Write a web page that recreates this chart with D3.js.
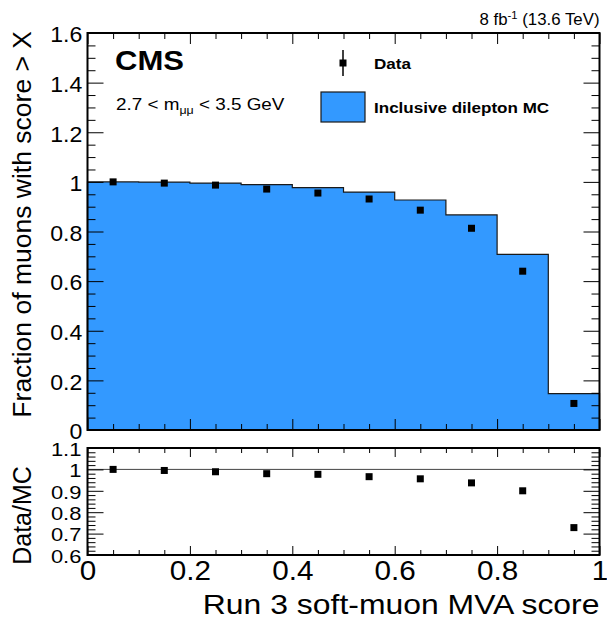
<!DOCTYPE html>
<html>
<head>
<meta charset="utf-8">
<script src="https://cdn.jsdelivr.net/npm/d3@7"></script>
<style>
  body { margin: 0; background: #fff; }
  svg { font-family: "Liberation Sans", Arial, sans-serif; }
</style>
</head>
<body>
<div id="chart"></div>
<script>
// bins of the MVA score (lower edges), width 0.1
const binLow = [0.0, 0.1, 0.2, 0.3, 0.4, 0.5, 0.6, 0.7, 0.8, 0.9]
// fraction of muons with score > X, inclusive dilepton MC
const mcFrac = [1.000, 0.999, 0.995, 0.989, 0.977, 0.959, 0.927, 0.867, 0.708, 0.147]
// data points at bin centres
const binCenter = [0.05, 0.15, 0.25, 0.35, 0.45, 0.55, 0.65, 0.75, 0.85, 0.95]
const dataFrac = [1.000, 0.995, 0.987, 0.971, 0.955, 0.931, 0.886, 0.813, 0.640, 0.107]
const ratio = [1.000, 0.995, 0.989, 0.980, 0.977, 0.966, 0.956, 0.937, 0.900, 0.728]

const xTicks = [0, 0.2, 0.4, 0.6, 0.8, 1]
const yTicksTop = [0, 0.2, 0.4, 0.6, 0.8, 1, 1.2, 1.4, 1.6]
const yTicksRatio = [0.6, 0.7, 0.8, 0.9, 1, 1.1]

const width = 607, height = 619
const left = 87.5, right = 599.5
const topY0 = 33, topY1 = 430
const botY0 = 448, botY1 = 555
const fillColor = "#3399ff"

const svg = d3.select("#chart").append("svg")
  .attr("width", width)
  .attr("height", height)

const x = d3.scaleLinear().domain([0, 1]).range([left, right])
const y = d3.scaleLinear().domain([0, 1.6]).range([topY1, topY0])
const yr = d3.scaleLinear().domain([0.6, 1.1]).range([botY1, botY0])

const fmt = d => d3.format("")(+d.toFixed(1))

// text placed with a small horizontal stretch (the reference font runs wide)
function label(x0, y0, size, sx, anchor) {
  return svg.append("text")
    .attr("transform", `translate(${x0},${y0}) scale(${sx},1)`)
    .attr("text-anchor", anchor || "start")
    .style("font-size", size + "px")
}

// ---- top panel: histogram
const steps = []
binLow.forEach((b, i) => {
  steps.push([b, mcFrac[i]])
  steps.push([b + 0.1, mcFrac[i]])
})
const area = d3.area().x(d => x(d[0])).y0(y(0)).y1(d => y(d[1]))
const line = d3.line().x(d => x(d[0])).y(d => y(d[1]))

svg.append("path")
  .datum(steps)
  .attr("d", area)
  .attr("fill", fillColor)

svg.append("path")
  .datum([[0, 0], ...steps, [1, 0]])
  .attr("d", line)
  .attr("fill", "none")
  .attr("stroke", "#1a1a1a")
  .attr("stroke-width", 1.2)

svg.append("g")
  .selectAll("rect")
  .data(binCenter)
  .join("rect")
  .attr("x", d => x(d) - 3.5)
  .attr("y", (d, i) => y(dataFrac[i]) - 3.5)
  .attr("width", 7)
  .attr("height", 7)
  .attr("fill", "#000")

// axes helper: inward ticks, major + minor
function ticks(g, axisFn, scale, major, minor, majLen, minLen, labels, fontSize, pad, sx) {
  const a = axisFn(scale).tickValues(major).tickSize(-majLen).tickPadding(pad)
    .tickFormat(labels ? fmt : "")
  const gm = g.append("g").call(a)
  gm.select(".domain").remove()
  gm.selectAll("text").style("font-size", fontSize + "px").attr("fill", "#000")
    .attr("transform", `scale(${sx || 1},1)`)
  gm.selectAll("line").attr("stroke", "#000")
  const b = axisFn(scale).tickValues(minor).tickSize(-minLen).tickFormat("")
  const gn = g.append("g").call(b)
  gn.select(".domain").remove()
  gn.selectAll("line").attr("stroke", "#000")
  return gm
}

const minorX = d3.range(0, 1.0001, 0.05).filter(v => Math.abs(v * 5 - Math.round(v * 5)) > 1e-6)
const minorYTop = d3.range(0, 1.6001, 0.05).filter(v => Math.abs(v * 5 - Math.round(v * 5)) > 1e-6)
const minorYR = d3.range(0.6, 1.1001, 0.02).filter(v => Math.abs(v * 10 - Math.round(v * 10)) > 1e-6)

// top panel axes
const yl = ticks(svg.append("g").attr("transform", `translate(${left},0)`), d3.axisLeft, y, yTicksTop, minorYTop, 16, 8, true, 22, 5, 1.05)
yl.selectAll("text").attr("dy", "0.4em")
ticks(svg.append("g").attr("transform", `translate(${right},0)`), d3.axisRight, y, yTicksTop, minorYTop, 16, 8, false, 22, 6)
ticks(svg.append("g").attr("transform", `translate(0,${topY1})`), d3.axisBottom, x, xTicks, minorX, 11, 6, false, 22, 6)
ticks(svg.append("g").attr("transform", `translate(0,${topY0})`), d3.axisTop, x, xTicks, minorX, 11, 6, false, 22, 6)

svg.append("rect")
  .attr("x", left).attr("y", topY0)
  .attr("width", right - left).attr("height", topY1 - topY0)
  .attr("fill", "none").attr("stroke", "#000").attr("stroke-width", 2)

// ---- ratio panel
svg.append("line")
  .attr("x1", x(0)).attr("x2", x(1))
  .attr("y1", yr(1)).attr("y2", yr(1))
  .attr("stroke", "#444").attr("stroke-width", 1)

svg.append("g")
  .selectAll("rect")
  .data(binCenter)
  .join("rect")
  .attr("x", d => x(d) - 3.5)
  .attr("y", (d, i) => yr(ratio[i]) - 3.5)
  .attr("width", 7)
  .attr("height", 7)
  .attr("fill", "#000")

const yrl = ticks(svg.append("g").attr("transform", `translate(${left},0)`), d3.axisLeft, yr, yTicksRatio, minorYR, 16, 8, true, 18, 5, 1.22)
yrl.selectAll("text").attr("dy", "0.4em")
ticks(svg.append("g").attr("transform", `translate(${right},0)`), d3.axisRight, yr, yTicksRatio, minorYR, 16, 8, false, 22, 6)
ticks(svg.append("g").attr("transform", `translate(0,${botY1})`), d3.axisBottom, x, xTicks, minorX, 9, 5, true, 28, 5, 1.06)
ticks(svg.append("g").attr("transform", `translate(0,${botY0})`), d3.axisTop, x, xTicks, minorX, 9, 5, false, 22, 6)

svg.append("rect")
  .attr("x", left).attr("y", botY0)
  .attr("width", right - left).attr("height", botY1 - botY0)
  .attr("fill", "none").attr("stroke", "#000").attr("stroke-width", 2)

// ---- titles
label(right, 614, 28.5, 1.12, "end").text("Run 3 soft-muon MVA score")

svg.append("text")
  .attr("transform", `translate(31,${topY0 - 2}) rotate(-90)`)
  .attr("text-anchor", "end")
  .style("font-size", "26.5px")
  .text("Fraction of muons with score > X")

svg.append("text")
  .attr("transform", `translate(31,${(botY0 + botY1) / 2 + 14}) rotate(-90)`)
  .attr("text-anchor", "middle")
  .style("font-size", "25px")
  .text("Data/MC")

const lumi = label(right, 25, 16.5, 1.02, "end")
lumi.append("tspan").text("8 fb")
lumi.append("tspan").attr("dy", -6).style("font-size", "11px").text("-1")
lumi.append("tspan").attr("dy", 6).text(" (13.6 TeV)")

label(115, 70, 27, 1.15).style("font-weight", "bold").text("CMS")

const sel = label(116, 110, 16, 1.18)
sel.append("tspan").text("2.7 < m")
sel.append("tspan").attr("dy", 4).style("font-size", "10.5px").text("μμ")
sel.append("tspan").attr("dy", -4).text(" < 3.5 GeV")

// ---- legend
const lg = svg.append("g")
lg.append("line")
  .attr("x1", 343).attr("x2", 343).attr("y1", 50).attr("y2", 76)
  .attr("stroke", "#000").attr("stroke-width", 1.5)
lg.append("rect")
  .attr("x", 339.5).attr("y", 59.5).attr("width", 7).attr("height", 7).attr("fill", "#000")
label(374, 69, 15.5, 1.1).style("font-weight", "bold").text("Data")
lg.append("rect")
  .attr("x", 321).attr("y", 92).attr("width", 44).attr("height", 30)
  .attr("fill", fillColor).attr("stroke", "#1a1a1a").attr("stroke-width", 1.2)
label(374, 113, 15.5, 1.1).style("font-weight", "bold").text("Inclusive dilepton MC")
</script>
</body>
</html>
